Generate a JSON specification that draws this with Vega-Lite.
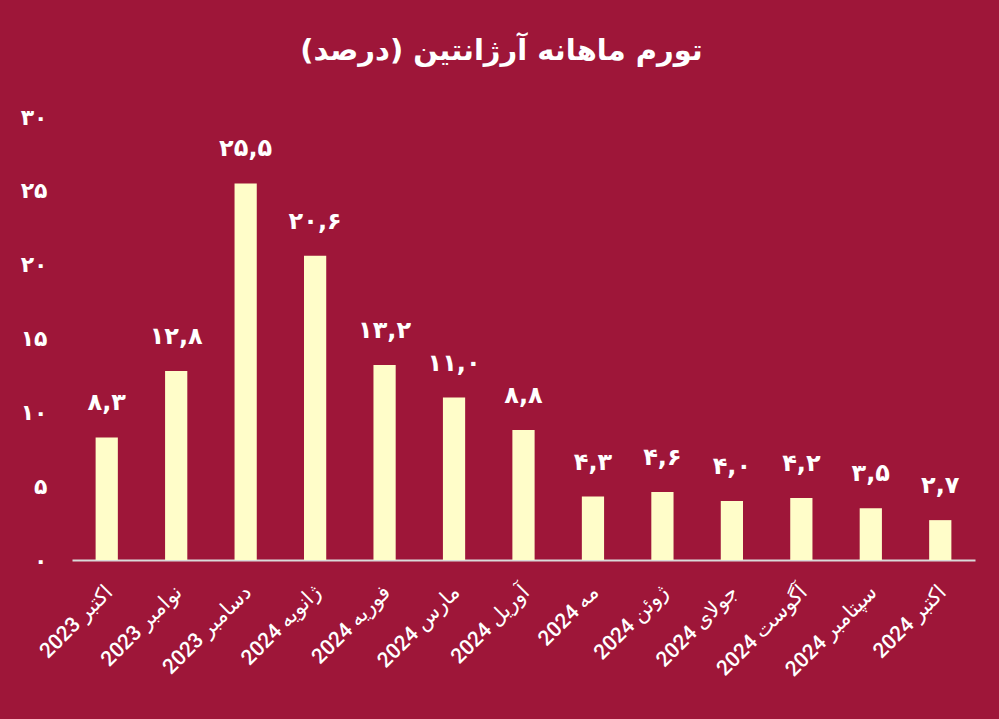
{
  "$schema": "https://vega.github.io/schema/vega-lite/v6.json",
  "width": 999,
  "height": 719,
  "autosize": {"type": "fit", "contains": "padding"},
  "padding": {"left": 6, "right": 24, "top": 37, "bottom": 9},
  "background": "#9E1639",
  "title": {
    "text": "تورم ماهانه آرژانتین (درصد)\u200f",
    "color": "#FFFFFF",
    "font": "DejaVu Sans",
    "fontSize": 29,
    "fontWeight": "bold",
    "anchor": "middle",
    "offset": 40,
    "dx": -22
  },
  "data": {
    "values": [
      {"month": "اکتبر 2023", "value": 8.3},
      {"month": "نوامبر 2023", "value": 12.8},
      {"month": "دسامبر 2023", "value": 25.5},
      {"month": "ژانویه 2024", "value": 20.6},
      {"month": "فوریه 2024", "value": 13.2},
      {"month": "مارس 2024", "value": 11.0},
      {"month": "آوریل 2024", "value": 8.8},
      {"month": "مه 2024", "value": 4.3},
      {"month": "ژوئن 2024", "value": 4.6},
      {"month": "جولای 2024", "value": 4.0},
      {"month": "آگوست 2024", "value": 4.2},
      {"month": "سپتامبر 2024", "value": 3.5},
      {"month": "اکتبر 2024", "value": 2.7}
    ]
  },
  "transform": [
    {"calculate": "replace(replace(replace(replace(replace(replace(replace(replace(replace(replace(replace(format(datum.value,'.1f'),'.',','),regexp('0','g'),'۰'),regexp('1','g'),'۱'),regexp('2','g'),'۲'),regexp('3','g'),'۳'),regexp('4','g'),'۴'),regexp('5','g'),'۵'),regexp('6','g'),'۶'),regexp('7','g'),'۷'),regexp('8','g'),'۸'),regexp('9','g'),'۹')", "as": "lbl"}
  ],
  "encoding": {
    "x": {
      "field": "month",
      "type": "nominal",
      "sort": null,
      "scale": {"paddingInner": 0.68, "paddingOuter": 0.34},
      "axis": {
        "title": null,
        "labelAngle": -45,
        "labelColor": "#FFFFFF",
        "labelFont": "Roboto, DejaVu Sans",
        "labelFontSize": 21,
        "labelFontWeight": 500,
        "labelPadding": 21,
        "labelOffset": -5,
        "ticks": false,
        "domainColor": "#D9D9D9",
        "domainWidth": 2,
        "minExtent": 150,
        "maxExtent": 150,
        "labelLimit": 300
      }
    },
    "y": {
      "field": "value",
      "type": "quantitative",
      "scale": {"domain": [0, 30], "nice": false},
      "axis": {
        "title": null,
        "values": [0, 5, 10, 15, 20, 25, 30],
        "grid": false,
        "domain": false,
        "ticks": false,
        "labelColor": "#FFFFFF",
        "labelFont": "DejaVu Sans",
        "labelFontSize": 22,
        "labelFontWeight": "bold",
        "labelPadding": 25,
        "minExtent": 66,
        "maxExtent": 66,
        "labelExpr": "replace(replace(replace(replace(replace(replace(replace(replace(replace(replace(datum.label,regexp('0','g'),'۰'),regexp('1','g'),'۱'),regexp('2','g'),'۲'),regexp('3','g'),'۳'),regexp('4','g'),'۴'),regexp('5','g'),'۵'),regexp('6','g'),'۶'),regexp('7','g'),'۷'),regexp('8','g'),'۸'),regexp('9','g'),'۹')"
      }
    }
  },
  "layer": [
    {"mark": {"type": "bar", "color": "#FFFDC9"}},
    {
      "mark": {"type": "text", "color": "#FFFFFF", "font": "DejaVu Sans", "fontSize": 24, "fontWeight": "bold", "baseline": "middle", "dy": -34},
      "encoding": {"text": {"field": "lbl", "type": "nominal"}}
    }
  ],
  "config": {"view": {"stroke": null}}
}
